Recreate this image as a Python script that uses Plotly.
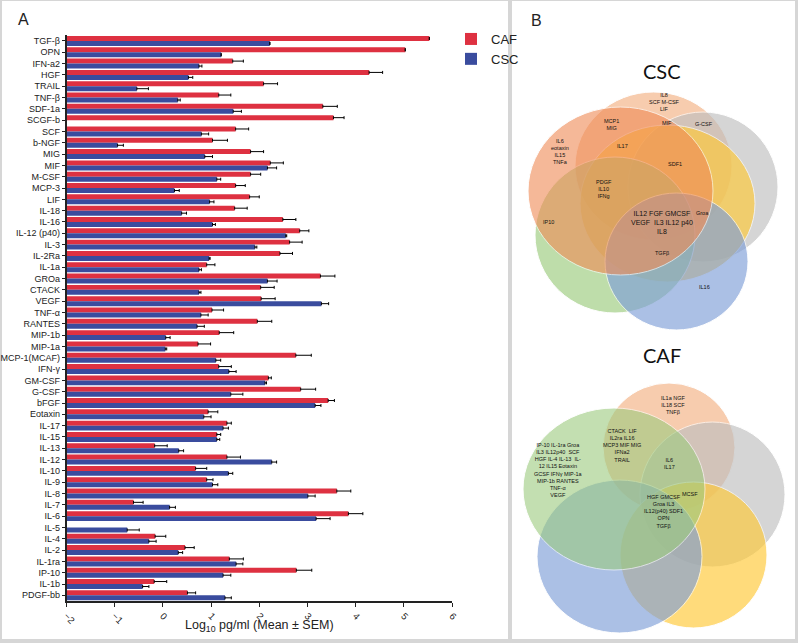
import plotly.graph_objects as go

cats = ["TGF-β", "OPN", "IFN-a2", "HGF", "TRAIL", "TNF-β", "SDF-1a", "SCGF-b", "SCF", "b-NGF",
        "MIG", "MIF", "M-CSF", "MCP-3", "LIF", "IL-18", "IL-16", "IL-12 (p40)", "IL-3", "IL-2Ra",
        "IL-1a", "GROa", "CTACK", "VEGF", "TNF-α", "RANTES", "MIP-1b", "MIP-1a", "MCP-1(MCAF)", "IFN-γ",
        "GM-CSF", "G-CSF", "bFGF", "Eotaxin", "IL-17", "IL-15", "IL-13", "IL-12", "IL-10", "IL-9",
        "IL-8", "IL-7", "IL-6", "IL-5", "IL-4", "IL-2", "IL-1ra", "IP-10", "IL-1b", "PDGF-bb"]

caf = [5.53, 5.03, 1.45, 4.28, 2.09, 1.16, 3.32, 3.54, 1.51, 1.03,
       1.82, 2.23, 1.82, 1.51, 1.80, 1.49, 2.49, 2.84, 2.63, 2.43,
       0.91, 3.27, 2.03, 2.04, 1.02, 1.96, 1.17, 0.73, 2.76, 1.16,
       2.19, 2.86, 3.43, 0.94, 1.33, 1.12, -0.17, 1.33, 0.68, 0.91,
       3.61, -0.61, 3.85, None, -0.16, 0.46, 1.38, 2.77, -0.18, 0.51]
caf_err = [0, 0, 0.22, 0.28, 0.29, 0.25, 0.30, 0.22, 0.27, 0.31,
           0.27, 0.27, 0.21, 0.20, 0.20, 0.26, 0.27, 0.19, 0.26, 0.26,
           0.17, 0.30, 0.28, 0.29, 0.24, 0.30, 0.30, 0.26, 0.32, 0.26,
           0.06, 0.31, 0.13, 0.20, 0.09, 0.08, 0.26, 0.28, 0.23, 0.13,
           0.29, 0.20, 0.30, None, 0.22, 0.19, 0.29, 0.32, 0.26, 0.17]

csc = [2.22, 1.21, 0.75, 0.53, -0.54, 0.31, 1.46, None, 0.80, -0.94,
       0.87, 2.17, 1.12, 0.24, 0.97, 0.39, 1.03, 2.55, 1.91, 0.96,
       0.75, 2.17, 0.75, 3.29, 0.79, 0.71, 0.06, 0.05, 1.10, 1.37,
       2.12, 1.41, 3.16, 0.85, 1.25, 1.12, 0.33, 2.26, 1.36, 1.03,
       3.01, 0.14, 3.18, -0.74, -0.29, 0.32, 1.52, 1.25, -0.42, 1.29]
csc_err = [0, 0, 0.06, 0.09, 0.24, 0.05, 0.17, None, 0.15, 0.12,
           0.16, 0.19, 0.08, 0.10, 0.09, 0.10, 0.06, 0.02, 0.04, 0.02,
           0.05, 0.20, 0.04, 0.15, 0.15, 0.15, 0.09, 0.03, 0.10, 0.15,
           0.03, 0.25, 0.12, 0.15, 0.11, 0.06, 0.10, 0.10, 0.09, 0.11,
           0.15, 0.12, 0.29, 0.25, 0.15, 0.09, 0.14, 0.16, 0.13, 0.13]

x_ticks = [-2, -1, 0, 1, 2, 3, 4, 5, 6]
axis_min = -2

# Venn diagram contents (region labels)
csc_labels = [
    ("IL8<br>SCF M-CSF<br>LIF", 664, 102),
    ("MCP1<br>MIG", 611, 124),
    ("MIF", 667, 123),
    ("G-CSF", 704, 124),
    ("IL6<br>eotaxin<br>IL15<br>TNFa", 560, 151),
    ("IL17", 622, 146),
    ("SDF1", 675, 164),
    ("PDGF<br>IL10<br>IFNg", 604, 189),
    ("IP10", 548, 222),
    ("TGFβ", 662, 253),
    ("Groa", 702, 213),
    ("IL16", 704, 287),
]
csc_core = ("IL12 FGF GMCSF<br>VEGF  IL3 IL12 p40<br>IL8", 662, 223)

caf_labels = [
    ("IL1a NGF<br>IL18 SCF<br>TNFβ", 673, 405),
    ("CTACK  LIF<br>IL2ra IL16<br>MCP3 MIF MIG<br>IFNa2<br>TRAIL", 622, 445),
    ("IP-10 IL-1ra Groa<br>IL3 IL12p40  SCF<br>HGF IL-4 IL-13  IL-<br>12 IL15 Eotaxin<br>GCSF IFNγ MIP-1a<br>MIP-1b RANTES<br>TNF-α<br>VEGF", 558, 470),
    ("IL6<br>IL17", 669, 463),
    ("MCSF", 690, 494),
    ("HGF GMCSF<br>Groa IL3<br>IL12(p40) SDF1<br>OPN<br>TGFβ", 663, 511),
]

W, H = 798, 643
def px(x): return x / W
def py(y): return 1 - y / H

red = "#DE3141"
blue = "#3A4C9E"

base = [axis_min] * len(cats)
caf_len = [None if v is None else v - axis_min for v in caf]
csc_len = [None if v is None else v - axis_min for v in csc]

fig = go.Figure()
fig.add_bar(y=cats, x=caf_len, base=base, orientation="h", name="CAF",
            marker=dict(color=red, line=dict(width=0)),
            error_x=dict(type="data", array=caf_err, arrayminus=[0] * len(cats), symmetric=False,
                         color="black", thickness=1, width=1.5))
fig.add_bar(y=cats, x=csc_len, base=base, orientation="h", name="CSC",
            marker=dict(color=blue, line=dict(width=0)),
            error_x=dict(type="data", array=csc_err, arrayminus=[0] * len(cats), symmetric=False,
                         color="black", thickness=1, width=1.5))

shapes = []
shapes.append(dict(type="rect", xref="paper", yref="paper", x0=px(2), x1=px(508), y0=py(639), y1=py(1),
                   fillcolor="white", line=dict(width=0), layer="below"))
shapes.append(dict(type="rect", xref="paper", yref="paper", x0=px(512), x1=px(795), y0=py(639), y1=py(1),
                   fillcolor="white", line=dict(width=0), layer="below"))

def ell(x0, y0, x1, y1, color, op=0.65):
    return dict(type="circle", xref="paper", yref="paper", x0=px(x0), x1=px(x1), y0=py(y1), y1=py(y0),
                fillcolor=color, opacity=op, line=dict(color="white", width=1), layer="above")

peach = "#F4B183"
salmon = "#F08A55"
gray = "#BFBFBF"
yellow = "#FFC936"
green = "#9CCB7E"
blueV = "#7F9FD8"

shapes += [
    ell(575, 92, 732, 240, peach),
    ell(628, 112, 778, 262, gray),
    ell(580, 125, 755, 282, yellow),
    ell(535, 157, 695, 313, green),
    ell(605, 193, 748, 330, blueV),
    ell(528, 107, 713, 275, salmon, 0.6),
]
shapes += [
    ell(603, 383, 735, 512, peach),
    ell(640, 422, 785, 567, gray),
    ell(620, 482, 767, 628, yellow),
    ell(537, 480, 702, 633, blueV),
    ell(523, 408, 705, 570, green, 0.6),
]

def note(text, x, y, size, family="Liberation Sans", color="#111"):
    return dict(text=text, x=px(x), y=py(y), xref="paper", yref="paper", showarrow=False,
                xanchor="center", yanchor="middle", align="center",
                font=dict(size=size, color=color, family=family))

ann = [
    note("A", 23, 20, 16, color="#222"),
    note("B", 536, 21, 16, color="#222"),
    note("CSC", 662, 71, 20, family="Lato"),
    note("CAF", 662, 355, 20, family="Lato"),
    note("Log<sub>10</sub> pg/ml (Mean ± SEM)", 259, 626, 12.5, color="#222"),
]
narrow = "Liberation Sans Narrow, Liberation Sans"
for t, x, y in csc_labels + caf_labels:
    ann.append(note(t, x, y, 5.5, family=narrow))
t, x, y = csc_core
ann.append(note(t, x, y, 7, family=narrow))

fig.update_layout(
    width=W, height=H, margin=dict(l=0, r=0, t=0, b=0, pad=0, autoexpand=False),
    paper_bgcolor="#D6D6D6", plot_bgcolor="rgba(0,0,0,0)",
    barmode="group", bargap=0.12, bargroupgap=0,
    font=dict(family="Liberation Sans, Arial", color="#222"),
    shapes=shapes, annotations=ann,
    legend=dict(x=px(451), y=py(24), xanchor="left", yanchor="top", bgcolor="rgba(0,0,0,0)",
                font=dict(size=13, color="#222"), tracegroupgap=0),
    xaxis=dict(domain=[px(66.5), px(452)], range=[-2, 6], tickvals=x_ticks, tickangle=45,
               ticks="outside", ticklen=4, tickwidth=1.2, tickcolor="#222", automargin=False,
               showline=True, linecolor="#222", linewidth=1.5, showgrid=False, zeroline=False,
               tickfont=dict(size=9.5)),
    yaxis=dict(domain=[42 / H, 1 - 35.3 / H], autorange="reversed", ticks="outside", ticklen=3,
               tickmode="array", tickvals=cats, ticktext=cats, automargin=False,
               tickwidth=1.2, tickcolor="#222", showline=True, linecolor="#222", linewidth=1.5,
               showgrid=False, zeroline=False, tickfont=dict(size=9)),
)

fig.write_html("out.html", config={"displayModeBar": False},
               post_script="document.body.style.margin='0';document.body.style.overflow='hidden';")
